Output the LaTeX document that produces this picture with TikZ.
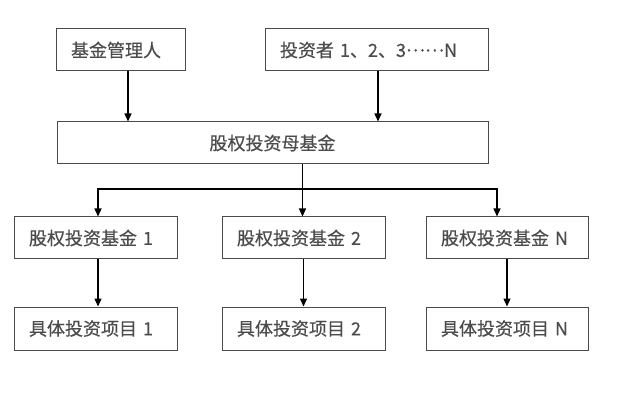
\documentclass[tikz,border=0pt]{standalone}
\usepackage{fontspec}
\newfontfamily\cjk{Noto Sans CJK SC}[FakeBold=0.4]
\usetikzlibrary{arrows.meta}

\definecolor{boxline}{HTML}{4A4A4A}
\definecolor{boxtext}{HTML}{4C4C4C}

\tikzset{
  fundbox/.style={draw=boxline, line width=1pt, minimum height=42pt,
    inner xsep=15pt, inner ysep=0pt, align=left, text=boxtext,
    font=\cjk\fontsize{18}{21}\selectfont},
  flow/.style={->, line width=1.3pt, black}
}

\begin{document}
\begin{tikzpicture}[x=1pt, y=-1pt, >={Triangle[length=8pt,width=7pt]}]
    \useasboundingbox[fill=white] (0,0) rectangle (622,401);
    % top row
    \node[fundbox, text width=99pt] (mgr) at (120.5,50) {基金管理人};
    \node[fundbox, text width=193pt] (inv) at (376.5,50) {投资者 1、2、3\raisebox{0.3em}{……}N};
    % mother fund
    \node[fundbox, minimum width=431pt, align=center, inner xsep=0pt] (mother) at (272.5,143) {股权投资母基金};
    % sub funds
    \node[fundbox, text width=133pt] (f1) at (95.5,238) {股权投资基金 1};
    \node[fundbox, text width=133pt] (f2) at (303.5,238) {股权投资基金 2};
    \node[fundbox, text width=132pt] (fN) at (507,238) {股权投资基金 N};
    % projects
    \node[fundbox, minimum height=43pt, text width=133pt] (p1) at (95.5,328.5) {具体投资项目 1};
    \node[fundbox, minimum height=43pt, text width=133pt] (p2) at (303.5,328.5) {具体投资项目 2};
    \node[fundbox, minimum height=43pt, text width=132pt] (pN) at (507,328.5) {具体投资项目 N};
    \coordinate (split) at (302.5,189);
    % connectors
    \draw[flow] ([xshift=7.5pt]mgr.south) -- ([xshift=7.5pt]mgr.south |- mother.north);
    \draw[flow] ([xshift=1.5pt]inv.south) -- ([xshift=1.5pt]inv.south |- mother.north);
    \draw[line width=1.3pt] (split |- mother.south) -- (split);
    \draw[flow] (split) -| ([xshift=2.5pt]f1.north);
    \draw[flow] (split) -- (split |- f2.north);
    \draw[flow] (split) -| ([xshift=-10pt]fN.north);
    \draw[flow] ([xshift=2.5pt]f1.south) -- ([xshift=2.5pt]p1.north);
    \draw[flow] (f2.south) -- (p2.north);
    \draw[flow] (fN.south) -- (pN.north);
\end{tikzpicture}
\end{document}
